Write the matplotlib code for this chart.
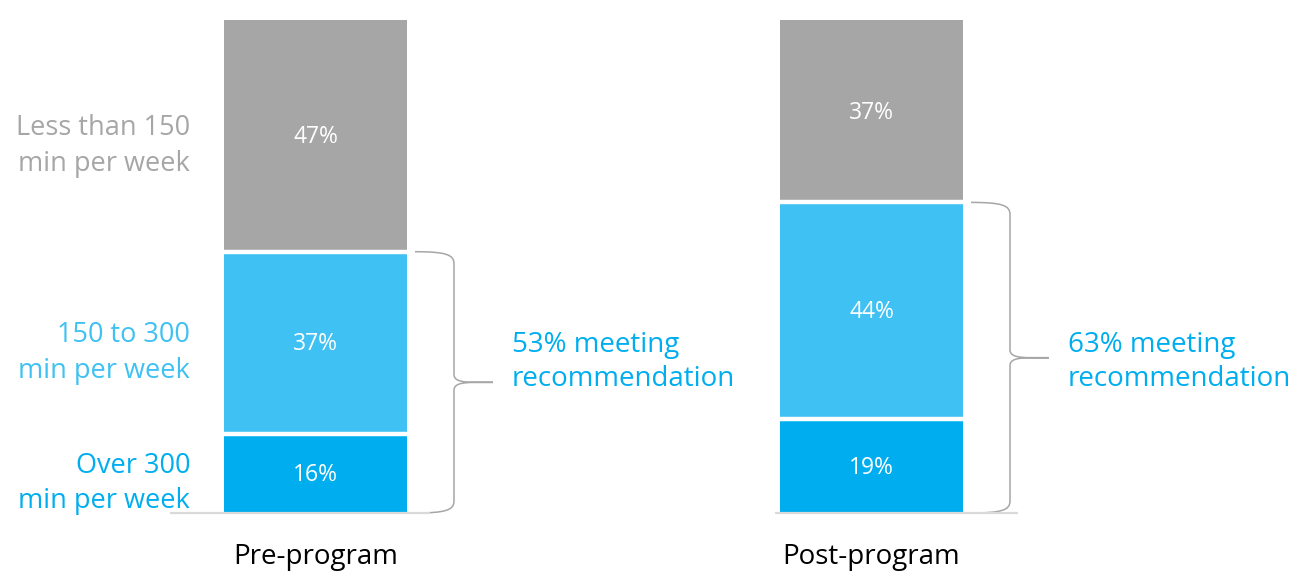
import matplotlib.pyplot as plt
from matplotlib.path import Path
from matplotlib.patches import PathPatch

plt.rcParams['font.family'] = ['Open Sans', 'DejaVu Sans']

# Share of participants by weekly activity minutes
categories = ['Pre-program', 'Post-program']
over_300 = [16, 19]
from_150_to_300 = [37, 44]
under_150 = [47, 37]
segment_names = ['Over 300\nmin per week', '150 to 300\nmin per week', 'Less than 150\nmin per week']

GRAY = '#A6A6A6'
LIGHT_BLUE = '#3FC1F3'
DARK_BLUE = '#00AEEF'
seg_colors = [DARK_BLUE, LIGHT_BLUE, GRAY]

fig = plt.figure(figsize=(12.99, 5.8), dpi=100)
ax = fig.add_axes([0, 67 / 580, 1, 493 / 580])
ax.set_xlim(-315.5 / 556, 1 + 427.5 / 556)
ax.set_ylim(0, 100)
ax.axis('off')

# pixel -> data unit helpers
px = 1 / 556
py = 100 / 493

bar_w = 183 * px
x = list(range(len(categories)))
series = [over_300, from_150_to_300, under_150]

bottoms = [0] * len(categories)
for vals, col in zip(series, seg_colors):
    ax.bar(x, vals, bottom=bottoms, width=bar_w, color=col, linewidth=0)
    for i, v in enumerate(vals):
        ax.text(x[i], bottoms[i] + v / 2 - 1.5 * py, f'{v}%', color='white',
                fontsize=16.5, ha='center', va='center')
    bottoms = [b + v for b, v in zip(bottoms, vals)]

# white separators between segments
cum = [0] * len(categories)
for vals in series[:-1]:
    cum = [c + v for c, v in zip(cum, vals)]
    for i, c in enumerate(cum):
        ax.plot([x[i] - bar_w / 2, x[i] + bar_w / 2], [c, c], color='white',
                lw=3.2, solid_capstyle='butt')

# baselines
ax.plot([x[0] - 145.5 * px, x[0] + 114.5 * px], [0, 0], color='#D9D9D9', lw=1.6,
        solid_capstyle='butt', clip_on=False)
ax.plot([x[1] - 96.5 * px, x[1] + 146.5 * px], [0, 0], color='#D9D9D9', lw=1.6,
        solid_capstyle='butt', clip_on=False)

# segment names next to the first bar
mids = []
cum = 0
for vals in series:
    mids.append(cum + vals[0] / 2)
    cum += vals[0]
for name, mid, col in zip(segment_names, mids, seg_colors):
    ax.text(x[0] - bar_w / 2 - 34 * px, mid - 10 * py, name, color=col, fontsize=19.5,
            ha='right', va='center', linespacing=1.35)

# category labels
for i, cat in enumerate(categories):
    ax.text(x[i], -8.9, cat, color='black', fontsize=20, ha='center', va='center',
            clip_on=False)


def brace(xc, y_bot, y_top):
    x0 = xc + bar_w / 2 + 8 * px
    x1 = x0 + 39 * px
    xt = x0 + 78 * px
    ym = (y_bot + y_top) / 2
    verts = [
        (x0, y_top),
        (x1 - 8 * px, y_top), (x1, y_top - 3 * py), (x1, y_top - 12 * py),
        (x1, ym + 8 * py),
        (x1, ym + 2 * py), (x1 + 6 * px, ym), (x1 + 22 * px, ym),
        (xt, ym),
        (x1 + 22 * px, ym),
        (x1 + 6 * px, ym), (x1, ym - 2 * py), (x1, ym - 8 * py),
        (x1, y_bot + 12 * py),
        (x1, y_bot + 3 * py), (x1 - 8 * px, y_bot), (x0, y_bot),
    ]
    codes = [Path.MOVETO,
             Path.CURVE4, Path.CURVE4, Path.CURVE4,
             Path.LINETO,
             Path.CURVE4, Path.CURVE4, Path.CURVE4,
             Path.LINETO,
             Path.LINETO,
             Path.CURVE4, Path.CURVE4, Path.CURVE4,
             Path.LINETO,
             Path.CURVE4, Path.CURVE4, Path.CURVE4]
    ax.add_patch(PathPatch(Path(verts, codes), facecolor='none', edgecolor=GRAY,
                           lw=1.1, clip_on=False))
    return xt


# braces with the share meeting the recommendation
for i in x:
    meeting = over_300[i] + from_150_to_300[i]
    tip = brace(x[i], 0, meeting)
    ax.text(tip + 19 * px, 30.6, f'{meeting}% meeting\nrecommendation', color=DARK_BLUE,
            fontsize=20, ha='left', va='center', linespacing=1.3)

fig.savefig('out.png', dpi=100)
